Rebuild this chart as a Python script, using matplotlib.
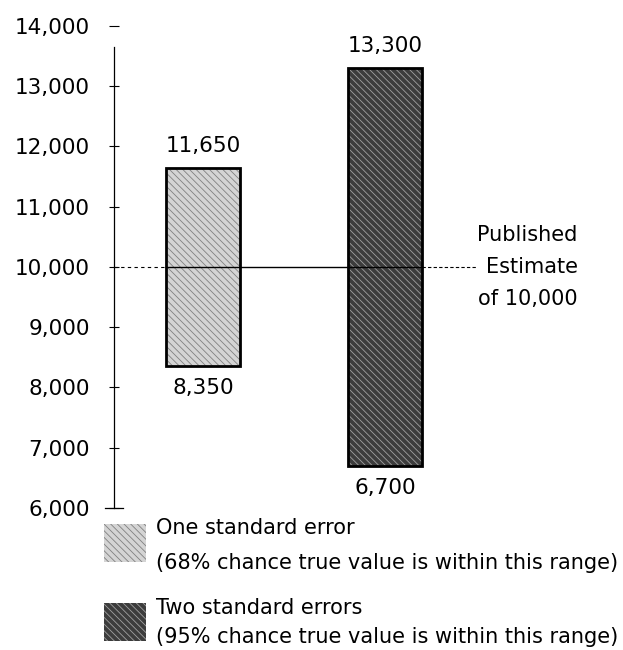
import matplotlib.pyplot as plt
from matplotlib.patches import Rectangle

plt.rcParams['font.family'] = ['DejaVu Sans']
plt.rcParams['hatch.linewidth'] = 0.6

# data
ranges = ['One standard error', 'Two standard errors']
notes = ['(68% chance true value is within this range)',
         '(95% chance true value is within this range)']
lows = [8350, 6700]
highs = [11650, 13300]
estimate = 10000
yticks = [6000, 7000, 8000, 9000, 10000, 11000, 12000, 13000, 14000]

faces = ['#d4d4d4', '#3c3c3c']
hatch_cols = ['#808080', '#a0a0a0']
hatches = ['\\\\\\\\\\', '\\\\\\\\\\']

fig = plt.figure(figsize=(6.23, 6.5), dpi=100)
ax = fig.add_axes([0.183, 0.2185, 0.817, 0.7415])
xs = [1, 2]
w = 0.41

for x, lo, hi, fc, hc, h in zip(xs, lows, highs, faces, hatch_cols, hatches):
    ax.bar(x, hi - lo, bottom=lo, width=w, color=fc, edgecolor=hc,
           hatch=h, linewidth=0, zorder=2)
    ax.bar(x, hi - lo, bottom=lo, width=w, fill=False, edgecolor='black',
           linewidth=2, zorder=3)
    ax.text(x, hi + 200, f'{hi:,}', ha='center', va='bottom', fontsize=15.5)
    ax.text(x, lo - 200, f'{lo:,}', ha='center', va='top', fontsize=15.5)

# published estimate line
ax.plot([0.51, xs[0] - w / 2], [estimate, estimate], color='black',
        lw=0.8, ls=(0, (3, 3)), zorder=4)
ax.plot([xs[0] - w / 2, xs[1] + w / 2], [estimate, estimate], color='black',
        lw=1.0, zorder=4)
ax.plot([xs[1] + w / 2, 2.5], [estimate, estimate], color='black',
        lw=0.8, ls=(0, (3, 2)), zorder=4)
ax.text(3.06, estimate, 'Published\nEstimate\nof 10,000', ha='right',
        va='center', fontsize=15, linespacing=1.75)

ax.set_xlim(0.51, 3.31)
ax.set_ylim(6000, 14000)
ax.set_yticks(yticks)
ax.set_yticklabels([f'{v:,}' for v in yticks], fontsize=15.5)
ax.tick_params(axis='y', direction='inout', length=7, width=0.8, pad=14)
ax.set_xticks([])
for s in ['top', 'right', 'bottom']:
    ax.spines[s].set_visible(False)
ax.spines['left'].set_bounds(6000, 13650)
ax.spines['left'].set_linewidth(0.9)
ax.spines['left'].set_zorder(1)
# wider base tick at the bottom of the axis
ax.plot([0.46, 0.56], [yticks[0], yticks[0]], color='black', lw=0.9,
        clip_on=False)

# legend
rows = [(524, 528, 563), (603, 608, 637)]
for i, (lab, note) in enumerate(zip(ranges, notes)):
    top, y1, y2 = rows[i]
    r = Rectangle((104 / 623, 1 - (top + 38) / 650), 42 / 623, 38 / 650,
                  transform=fig.transFigure, facecolor=faces[i],
                  edgecolor=hatch_cols[i], hatch=hatches[i], linewidth=0)
    fig.patches.append(r)
    fig.text(156 / 623, 1 - y1 / 650, lab, fontsize=15, va='center')
    fig.text(156 / 623, 1 - y2 / 650, note, fontsize=15, va='center')

fig.savefig('out.png', dpi=100)
